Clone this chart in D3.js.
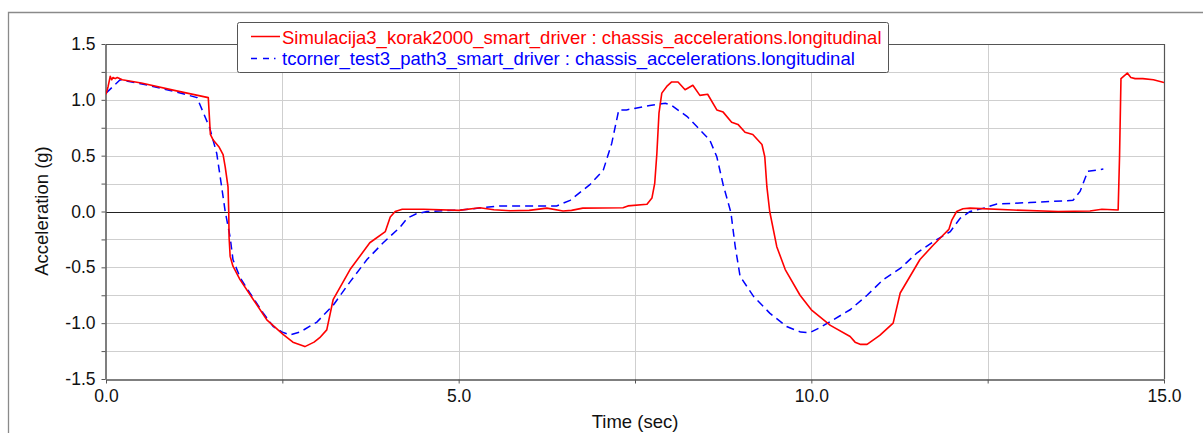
<!DOCTYPE html>
<html>
<head>
<meta charset="utf-8">
<script src="https://cdn.jsdelivr.net/npm/d3@7"></script>
<style>
  html, body { margin: 0; padding: 0; background: #fff; }
  svg { display: block; font-family: Arial, "Liberation Sans", sans-serif; }
</style>
</head>
<body>
<svg id="chart" width="1203" height="433"></svg>
<script>
// ---- Data ----
const seriesNames = [
  "Simulacija3_korak2000_smart_driver : chassis_accelerations.longitudinal",
  "tcorner_test3_path3_smart_driver : chassis_accelerations.longitudinal"
];
const xLabel = "Time (sec)";
const yLabel = "Acceleration (g)";
const xTicks = [0, 2.5, 5, 7.5, 10, 12.5, 15];
const xTickLabels = ["0.0", "", "5.0", "", "10.0", "", "15.0"];
const yTicks = [-1.5, -1.25, -1.0, -0.75, -0.5, -0.25, 0, 0.25, 0.5, 0.75, 1.0, 1.25, 1.5];
const yTickLabels = ["-1.5", "", "-1.0", "", "-0.5", "", "0.0", "", "0.5", "", "1.0", "", "1.5"];

// red: time (sec)
const simTime = [0,0.03,0.06,0.08,0.1,0.13,0.16,0.23,0.5,1.0,1.45,1.48,1.52,1.6,1.66,1.69,1.73,1.74,1.745,1.76,1.8,1.9,2.09,2.28,2.51,2.65,2.82,2.95,3.03,3.13,3.22,3.46,3.74,3.96,4.03,4.1,4.2,4.5,5.0,5.3,5.5,5.73,6.0,6.25,6.48,6.6,6.76,7.33,7.4,7.67,7.74,7.78,7.81,7.84,7.88,7.95,8.02,8.11,8.21,8.32,8.42,8.53,8.66,8.75,8.87,8.96,9.06,9.17,9.3,9.34,9.37,9.41,9.51,9.63,9.84,10.0,10.27,10.55,10.62,10.7,10.79,10.97,11.16,11.26,11.4,11.54,11.73,11.87,11.95,11.99,12.06,12.15,12.25,12.86,13.5,13.95,14.12,14.35,14.37,14.39,14.48,14.53,14.59,14.7,14.85,15.0];
// red: acceleration (g)
const simAccel = [1.05,1.12,1.21,1.18,1.2,1.19,1.2,1.18,1.15,1.08,1.02,0.69,0.64,0.58,0.51,0.40,0.22,0.0,-0.23,-0.40,-0.49,-0.61,-0.79,-0.97,-1.1,-1.17,-1.21,-1.17,-1.13,-1.06,-0.79,-0.52,-0.28,-0.18,-0.05,0.0,0.02,0.02,0.01,0.034,0.015,0.007,0.01,0.03,0.005,0.01,0.03,0.034,0.05,0.065,0.12,0.255,0.52,0.88,1.06,1.12,1.16,1.16,1.09,1.13,1.04,1.05,0.91,0.89,0.80,0.78,0.71,0.69,0.60,0.49,0.22,0.0,-0.315,-0.52,-0.75,-0.88,-1.02,-1.12,-1.17,-1.19,-1.19,-1.11,-1.0,-0.73,-0.58,-0.43,-0.30,-0.21,-0.16,-0.08,0.0,0.025,0.03,0.013,0.0,0.005,0.02,0.013,0.5,1.19,1.24,1.2,1.19,1.19,1.18,1.155];

// blue: time (sec)
const tcTime = [0,0.2,0.6,1.0,1.29,1.47,1.57,1.64,1.69,1.76,1.8,1.9,2.04,2.23,2.37,2.5,2.61,2.75,2.99,3.22,3.46,3.7,3.93,4.17,4.27,4.4,4.55,5.02,5.59,6.39,6.58,6.86,7.05,7.17,7.27,7.38,7.71,7.93,8.02,8.24,8.56,8.66,8.75,8.86,8.92,8.99,9.18,9.41,9.65,9.85,9.98,10.12,10.31,10.55,10.79,11.02,11.26,11.5,11.73,11.97,12.11,12.25,12.44,12.63,13.1,13.71,13.81,13.92,14.14];
// blue: acceleration (g)
const tcAccel = [1.06,1.18,1.13,1.07,1.02,0.75,0.52,0.22,0.0,-0.23,-0.43,-0.59,-0.73,-0.91,-1.03,-1.08,-1.105,-1.08,-0.99,-0.84,-0.63,-0.43,-0.28,-0.14,-0.06,-0.02,0.0,0.013,0.05,0.05,0.10,0.24,0.37,0.61,0.91,0.91,0.95,0.97,0.95,0.85,0.64,0.49,0.24,-0.01,-0.31,-0.58,-0.76,-0.91,-1.03,-1.08,-1.085,-1.04,-0.97,-0.88,-0.75,-0.61,-0.51,-0.37,-0.27,-0.18,-0.06,0.0,0.03,0.067,0.08,0.10,0.18,0.36,0.38];

// ---- Layout ----
const svg = d3.select("#chart");
const W = 1203, H = 433;
const plot = { left: 106, right: 1164, top: 44, bottom: 379 };

const x = d3.scaleLinear().domain([0, 15]).range([plot.left, plot.right]);
const y = d3.scaleLinear().domain([-1.5, 1.5]).range([plot.bottom, plot.top]);

svg.append("rect").attr("width", W).attr("height", H).attr("fill", "#fff");

// outer frame (top & left edges visible)
svg.append("path")
  .attr("d", `M8.5,${H + 2}V12.5H${W + 2}`)
  .attr("fill", "none").attr("stroke", "#8a8a8a").attr("stroke-width", 1.3);

// gridlines
const grid = svg.append("g");
grid.selectAll("line.h").data(yTicks.filter(v => v !== -1.5 && v !== 1.5 && v !== 0))
  .join("line").attr("class", "h")
  .attr("x1", plot.left).attr("x2", plot.right)
  .attr("y1", d => Math.round(y(d)) + 0.5).attr("y2", d => Math.round(y(d)) + 0.5)
  .attr("stroke", "#cfcfcf").attr("stroke-width", 1);
grid.selectAll("line.v").data(xTicks.filter(v => v !== 0 && v !== 15))
  .join("line").attr("class", "v")
  .attr("y1", plot.top).attr("y2", plot.bottom)
  .attr("x1", d => Math.round(x(d)) + 0.5).attr("x2", d => Math.round(x(d)) + 0.5)
  .attr("stroke", "#cfcfcf").attr("stroke-width", 1);

// zero line
svg.append("line")
  .attr("x1", plot.left).attr("x2", plot.right)
  .attr("y1", Math.round(y(0)) + 0.5).attr("y2", Math.round(y(0)) + 0.5)
  .attr("stroke", "#222").attr("stroke-width", 1);

// plot border (top, right)
svg.append("path")
  .attr("d", `M${plot.left},${plot.top + 0.5}H${plot.right + 0.5}V${plot.bottom}`)
  .attr("fill", "none").attr("stroke", "#555").attr("stroke-width", 1.2);

// axes
const xAxis = d3.axisBottom(x).tickValues(xTicks)
  .tickFormat((d, i) => xTickLabels[i]).tickSize(4).tickPadding(6).tickSizeOuter(0);
const yAxis = d3.axisLeft(y).tickValues(yTicks)
  .tickFormat((d, i) => yTickLabels[i]).tickSize(4).tickPadding(6).tickSizeOuter(0);

const gx = svg.append("g").attr("transform", `translate(0,${plot.bottom + 0.5})`).call(xAxis);
const gy = svg.append("g").attr("transform", `translate(${plot.left - 0.5},0)`).call(yAxis);
[gx, gy].forEach(g => {
  g.select(".domain").attr("stroke", "#555").attr("stroke-width", 1.5);
  g.selectAll(".tick line").attr("stroke", "#555");
  g.selectAll(".tick text").attr("fill", "#111").style("font-size", "17.5px")
    .style("font-family", "Arial, 'Liberation Sans', sans-serif");
});

// axis titles
svg.append("text").attr("x", 635).attr("y", 428).attr("text-anchor", "middle")
  .attr("fill", "#111").style("font-size", "18.5px").text(xLabel);
svg.append("text").attr("transform", `translate(48,211) rotate(-90)`)
  .attr("text-anchor", "middle").attr("fill", "#111").style("font-size", "18.5px").text(yLabel);

// lines
const line = d3.line().x(d => x(d[0])).y(d => y(d[1]));
const clip = svg.append("clipPath").attr("id", "clip")
  .append("rect").attr("x", plot.left).attr("y", plot.top)
  .attr("width", plot.right - plot.left).attr("height", plot.bottom - plot.top);

const tcData = tcTime.map((t, i) => [t, tcAccel[i]]);
const simData = simTime.map((t, i) => [t, simAccel[i]]);

svg.append("path").datum(tcData).attr("d", line)
  .attr("clip-path", "url(#clip)")
  .attr("fill", "none").attr("stroke", "#0000ff").attr("stroke-width", 1.5)
  .attr("stroke-dasharray", "8,5");
svg.append("path").datum(simData).attr("d", line)
  .attr("clip-path", "url(#clip)")
  .attr("fill", "none").attr("stroke", "#ff0000").attr("stroke-width", 1.6)
  .attr("stroke-linejoin", "round");

// legend
const lg = svg.append("g");
lg.append("rect").attr("x", 237.5).attr("y", 22.5).attr("width", 651).attr("height", 50)
  .attr("rx", 2).attr("fill", "#fff").attr("stroke", "#555").attr("stroke-width", 1);
const legendColors = ["#ff0000", "#0000ff"];
const legendDash = [null, "6,6,6,5,1.5,40"];
seriesNames.forEach((name, i) => {
  const cy = 36.5 + i * 22;
  lg.append("line").attr("x1", 251).attr("x2", 280).attr("y1", cy).attr("y2", cy)
    .attr("stroke", legendColors[i]).attr("stroke-width", 1.5)
    .attr("stroke-dasharray", legendDash[i]);
  lg.append("text").attr("x", 282).attr("y", 43.5 + i * 21.5)
    .attr("fill", legendColors[i]).style("font-size", "18.5px").text(name);
});
</script>
</body>
</html>
